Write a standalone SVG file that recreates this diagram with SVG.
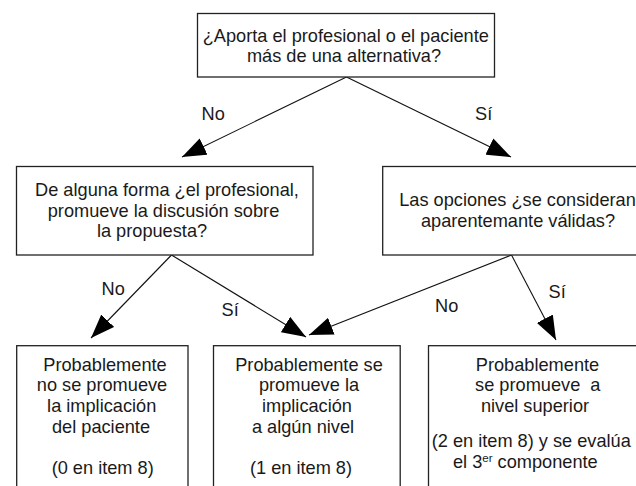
<svg xmlns="http://www.w3.org/2000/svg" width="636" height="486" viewBox="0 0 636 486">
<defs>
<style>
.box{fill:#fff;stroke:#222;stroke-width:1.3}
text{font-family:"Liberation Sans",Arial,sans-serif;font-size:18.2px;fill:#1a1a1a}
.c{text-anchor:middle}
.edge{stroke:#111;stroke-width:1.1;fill:none;marker-end:url(#ah)}
.sup{font-size:11.5px}
</style>
<marker id="ah" markerUnits="userSpaceOnUse" viewBox="0 0 24 18" refX="24" refY="9" markerWidth="24" markerHeight="18" orient="auto">
<path d="M0,0 L24,9 L0,18 z" fill="#000"/>
</marker>
</defs>
<rect width="636" height="486" fill="#fff"/>
<g id="connectors">
<line class="edge" x1="346.5" y1="77" x2="182" y2="157"/>
<line class="edge" x1="346.5" y1="77" x2="511" y2="157"/>
<line class="edge" x1="171.5" y1="255" x2="91" y2="338"/>
<line class="edge" x1="171.5" y1="255" x2="306" y2="337"/>
<line class="edge" x1="511.5" y1="255" x2="309" y2="335"/>
<line class="edge" x1="511.5" y1="255" x2="556" y2="340"/>
<text x="201.5" y="119.5">No</text>
<text x="475" y="119.5">Sí</text>
<text x="101.5" y="295">No</text>
<text x="221.5" y="315.5">Sí</text>
<text x="435" y="311.5">No</text>
<text x="548.5" y="298">Sí</text>
</g>
<g id="q1">
<rect class="box" x="197.5" y="13.5" width="297" height="63.5"/>
<text class="c" x="345.8" y="41.5">¿Aporta el profesional o el paciente</text>
<text class="c" x="344" y="61.8">más de una alternativa?</text>
</g>
<g id="q2">
<rect class="box" x="16.5" y="166.5" width="296.5" height="88.5"/>
<text class="c" x="167" y="196">De alguna forma ¿el profesional,</text>
<text class="c" x="163.5" y="216.5">promueve la discusión sobre</text>
<text class="c" x="152" y="237">la propuesta?</text>
</g>
<g id="q3">
<rect class="box" x="382.7" y="166.5" width="270" height="88.5"/>
<text class="c" x="517.5" y="206">Las opciones ¿se consideran</text>
<text class="c" x="518" y="226.5">aparentemante válidas?</text>
</g>
<g id="r0">
<rect class="box" x="16.7" y="345.7" width="171.3" height="150"/>
<text class="c" x="105" y="370.7">Probablemente</text>
<text class="c" x="102" y="391.3">no se promueve</text>
<text class="c" x="101.7" y="412">la implicación</text>
<text class="c" x="101" y="432.5">del paciente</text>
<text class="c" x="102.7" y="473.5">(0 en item 8)</text>
</g>
<g id="r1">
<rect class="box" x="213.5" y="345.7" width="186.7" height="150"/>
<text class="c" x="309" y="370.7">Probablemente se</text>
<text class="c" x="309" y="391.3">promueve la</text>
<text class="c" x="307" y="412">implicación</text>
<text class="c" x="303" y="432.5">a algún nivel</text>
<text class="c" x="301" y="473.5">(1 en item 8)</text>
</g>
<g id="r2">
<rect class="box" x="428.5" y="345.7" width="230" height="150"/>
<text class="c" x="537.5" y="370.7">Probablemente</text>
<text class="c" x="537.8" y="391.3" xml:space="preserve">se promueve  a</text>
<text class="c" x="535" y="412">nivel superior</text>
<text x="431.7" y="446.5">(2 en item 8) y se evalúa</text>
<text x="453" y="468">el 3<tspan class="sup" dy="-6">er</tspan><tspan dy="6"> componente</tspan></text>
</g>
</svg>
